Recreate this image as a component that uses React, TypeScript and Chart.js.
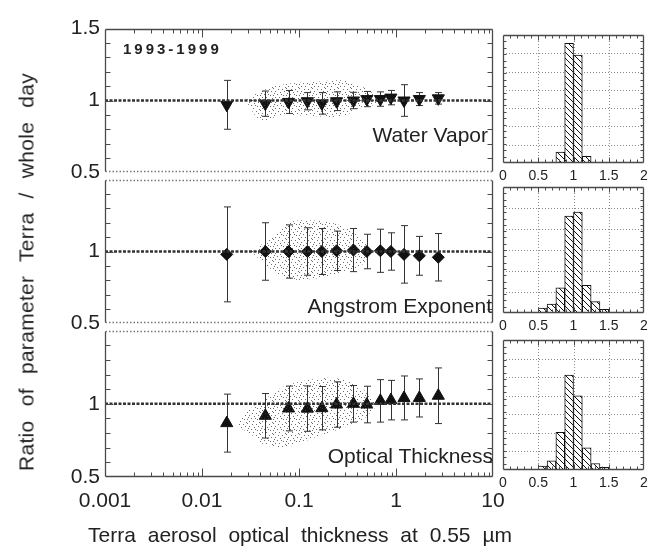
import React, { useEffect, useRef } from 'react';
import { Chart, registerables } from 'chart.js';

Chart.register(...registerables);
Chart.defaults.font.family = "'Liberation Sans', Arial, sans-serif";
Chart.defaults.color = '#222';

// ---------------- DATA ----------------
// Terra aerosol optical thickness bin centres (x, log axis)
const aotBins = [0.018, 0.045, 0.078, 0.122, 0.172, 0.244, 0.364, 0.5, 0.69, 0.885, 1.21, 1.74, 2.73];

// Ratio Terra / whole day, per parameter, with 1-sigma error bars
const waterVapor = [0.97, 0.978, 0.99, 0.995, 0.98, 0.995, 1.0, 1.01, 1.01, 1.02, 1.0, 1.01, 1.015];
const waterVaporErr = [0.17, 0.088, 0.08, 0.06, 0.075, 0.065, 0.057, 0.053, 0.05, 0.05, 0.11, 0.045, 0.04];
const angstrom = [0.98, 1.0, 1.0, 1.0, 1.0, 1.005, 1.01, 1.0, 1.005, 1.0, 0.98, 0.97, 0.96];
const angstromErr = [0.33, 0.2, 0.185, 0.165, 0.16, 0.137, 0.15, 0.12, 0.15, 0.13, 0.2, 0.135, 0.165];
const opticalThickness = [0.868, 0.918, 0.968, 0.967, 0.97, 0.995, 1.0, 0.995, 1.02, 1.025, 1.04, 1.04, 1.055];
const opticalThicknessErr = [0.198, 0.152, 0.153, 0.155, 0.148, 0.155, 0.125, 0.125, 0.145, 0.135, 0.15, 0.13, 0.19];

// Envelopes of the individual-measurement scatter clouds
const wvCloudX = [0.028, 0.041, 0.066, 0.145, 0.27, 0.43, 0.6, 0.66];
const wvCloudUpper = [1.0, 1.066, 1.11, 1.13, 1.14, 1.1, 1.04, 1.0];
const wvCloudLower = [1.0, 0.86, 0.9, 0.89, 0.89, 0.945, 0.97, 1.0];
const aeCloudX = [0.032, 0.052, 0.077, 0.145, 0.27, 0.43, 0.51, 0.53];
const aeCloudUpper = [1.0, 1.095, 1.2, 1.215, 1.18, 1.095, 1.03, 1.0];
const aeCloudLower = [1.0, 0.875, 0.81, 0.81, 0.85, 0.9, 0.96, 1.0];
const otCloudX = [0.024, 0.032, 0.044, 0.071, 0.145, 0.27, 0.43, 0.6, 0.64];
const otCloudUpper = [0.88, 0.97, 1.03, 1.12, 1.17, 1.17, 1.11, 1.03, 1.0];
const otCloudLower = [0.84, 0.79, 0.72, 0.7, 0.77, 0.83, 0.88, 0.97, 1.0];

// Histograms of the ratio (bin centres, relative frequency)
const histBinCenters = [0.0625, 0.1875, 0.3125, 0.4375, 0.5625, 0.6875, 0.8125, 0.9375,
  1.0625, 1.1875, 1.3125, 1.4375, 1.5625, 1.6875, 1.8125, 1.9375];
const histWaterVapor = [0, 0, 0, 0, 0, 0.005, 0.086, 0.935, 0.844, 0.052, 0.005, 0, 0, 0, 0, 0];
const histAngstrom = [0, 0, 0, 0, 0.04, 0.07, 0.2, 0.77, 0.8, 0.22, 0.09, 0.03, 0, 0, 0, 0];
const histOptical = [0, 0, 0, 0, 0.03, 0.07, 0.29, 0.73, 0.57, 0.17, 0.05, 0.02, 0, 0, 0, 0];
const histGridSteps = [1 / 7, 1 / 6, 1 / 7];

// Tick labels
const xTickValues = [0.001, 0.01, 0.1, 1, 10];
const xTickLabels = ['0.001', '0.01', '0.1', '1', '10'];
const yTickValues = [0.5, 1, 1.5];
const yTickLabels = ['0.5', '1', '1.5'];
const histTickValues = [0, 0.5, 1, 1.5, 2];
const histTickLabels = ['0', '0.5', '1', '1.5', '2'];

const panelNames = ['Water Vapor', 'Angstrom Exponent', 'Optical Thickness'];

// ---------------- PLUGINS ----------------
const framePlugin = {
  id: 'frameTicks',
  beforeDatasetsDraw(chart: any, _args: any, opts: any) {
    if (!opts || !opts.enabled) return;
    const { ctx, chartArea: a } = chart;
    const xs = chart.scales.x, ys = chart.scales.y;
    ctx.save();
    ctx.strokeStyle = '#8a8a8a';
    ctx.lineWidth = 1;
    ctx.setLineDash([1, 2]);
    (opts.gridX || []).forEach((v: number) => {
      const px = Math.round(xs.getPixelForValue(v)) + 0.5;
      ctx.beginPath(); ctx.moveTo(px, a.top); ctx.lineTo(px, a.bottom); ctx.stroke();
    });
    (opts.gridY || []).forEach((v: number) => {
      const py = Math.round(ys.getPixelForValue(v)) + 0.5;
      ctx.beginPath(); ctx.moveTo(a.left, py); ctx.lineTo(a.right, py); ctx.stroke();
    });
    ctx.restore();
  },
  afterDatasetsDraw(chart: any, _args: any, opts: any) {
    if (!opts || !opts.enabled) return;
    const { ctx, chartArea: a } = chart;
    const xs = chart.scales.x, ys = chart.scales.y;
    const L = Math.round(a.left) + 0.5, R = Math.round(a.right) - 0.5;
    const T = Math.round(a.top) + 0.5, B = Math.round(a.bottom) - 0.5;
    ctx.save();
    ctx.lineWidth = 1.3;
    const seg = (x1: number, y1: number, x2: number, y2: number, dash: boolean) => {
      ctx.setLineDash(dash ? [1.5, 2] : []);
      ctx.strokeStyle = dash ? '#777' : '#4a4a4a';
      ctx.beginPath(); ctx.moveTo(x1, y1); ctx.lineTo(x2, y2); ctx.stroke();
    };
    seg(L, T, L, B, false);
    seg(R, T, R, B, false);
    seg(L, T, R, T, !!opts.topDotted);
    seg(L, B, R, B, !!opts.bottomDotted);
    ctx.setLineDash([]);
    ctx.strokeStyle = '#4a4a4a';
    ctx.lineWidth = 1;
    (opts.xTicks || []).forEach((t: any) => {
      const px = Math.round(xs.getPixelForValue(t.v)) + 0.5;
      if (opts.ticksTop) { ctx.beginPath(); ctx.moveTo(px, T); ctx.lineTo(px, T + t.len); ctx.stroke(); }
      if (opts.ticksBottom) { ctx.beginPath(); ctx.moveTo(px, B); ctx.lineTo(px, B - t.len); ctx.stroke(); }
    });
    (opts.yTicks || []).forEach((t: any) => {
      const py = Math.round(ys.getPixelForValue(t.v)) + 0.5;
      ctx.beginPath(); ctx.moveTo(L, py); ctx.lineTo(L + t.len, py); ctx.stroke();
      ctx.beginPath(); ctx.moveTo(R, py); ctx.lineTo(R - t.len, py); ctx.stroke();
    });
    ctx.restore();
  },
};

const errorBarPlugin = {
  id: 'errorBars',
  beforeDatasetDraw(chart: any, args: any) {
    const ds = chart.data.datasets[args.index];
    if (!ds.errorBars) return;
    const ys = chart.scales[args.meta.yAxisID];
    const ctx = chart.ctx;
    ctx.save();
    ctx.strokeStyle = '#333';
    ctx.lineWidth = 1;
    args.meta.data.forEach((pt: any, i: number) => {
      const v = ds.data[i].y, e = ds.errorBars[i];
      const x = Math.round(pt.x) + 0.5;
      const y1 = ys.getPixelForValue(v + e), y2 = ys.getPixelForValue(v - e);
      ctx.beginPath();
      ctx.moveTo(x, y1); ctx.lineTo(x, y2);
      ctx.moveTo(x - 3.5, y1); ctx.lineTo(x + 3.5, y1);
      ctx.moveTo(x - 3.5, y2); ctx.lineTo(x + 3.5, y2);
      ctx.stroke();
    });
    ctx.restore();
  },
};

// ---------------- PATTERNS ----------------
function makeDotPattern(ctx: CanvasRenderingContext2D) {
  const c = document.createElement('canvas');
  c.width = 13; c.height = 11;
  const g = c.getContext('2d')!;
  g.fillStyle = 'rgba(60,60,60,0.75)';
  const dots = [[0, 0], [5, 1], [9, 1], [2, 3], [7, 4], [11, 3], [4, 6], [10, 7], [0, 7],
    [6, 9], [2, 9], [12, 10], [8, 6], [1, 5]];
  dots.forEach(([x, y]) => g.fillRect(x, y, 1, 1));
  return ctx.createPattern(c, 'repeat')!;
}

function makeHatch(ctx: CanvasRenderingContext2D) {
  const c = document.createElement('canvas');
  c.width = 6; c.height = 6;
  const g = c.getContext('2d')!;
  g.fillStyle = '#fff';
  g.fillRect(0, 0, 6, 6);
  g.strokeStyle = '#111';
  g.lineWidth = 1;
  g.beginPath();
  g.moveTo(-1, -1); g.lineTo(7, 7);
  g.moveTo(-1, 5); g.lineTo(1, 7);
  g.moveTo(5, -1); g.lineTo(7, 1);
  g.stroke();
  return ctx.createPattern(c, 'repeat')!;
}

// ---------------- CONFIG BUILDERS ----------------
const PANEL_TOPS = [25, 176, 327];
const PANEL_H = [151, 151, 150];
const PAD_T = 14;
const X_AXIS_H = 40;

const series = [waterVapor, angstrom, opticalThickness];
const seriesErr = [waterVaporErr, angstromErr, opticalThicknessErr];
const cloudX = [wvCloudX, aeCloudX, otCloudX];
const cloudUp = [wvCloudUpper, aeCloudUpper, otCloudUpper];
const cloudLo = [wvCloudLower, aeCloudLower, otCloudLower];
const markerStyle = [
  { pointStyle: 'triangle', rotation: 180, radius: 7 },
  { pointStyle: 'rectRot', rotation: 0, radius: 6 },
  { pointStyle: 'triangle', rotation: 0, radius: 7 },
];
const hists = [histWaterVapor, histAngstrom, histOptical];
const HIST_TOPS = [35, 187, 340];
const HIST_BOTTOMS = [163, 313, 470];

function logTicks() {
  const out: { v: number; len: number }[] = [];
  for (let d = -3; d <= 0; d++) {
    for (let m = 1; m <= 9; m++) {
      if (d === -3 && m === 1) continue;
      out.push({ v: m * Math.pow(10, d), len: m === 1 ? 8 : 4 });
    }
  }
  return out;
}

function mainConfig(i: number, ctx: CanvasRenderingContext2D): any {
  const isBottom = i === 2;
  const yTicks: { v: number; len: number }[] = [];
  for (let k = 6; k <= 14; k++) yTicks.push({ v: k / 10, len: k === 10 ? 8 : 5 });
  const dots = makeDotPattern(ctx);
  return {
    type: 'line',
    data: {
      datasets: [
        {
          label: 'cloud lower', data: cloudX[i].map((x, k) => ({ x, y: cloudLo[i][k] })),
          borderWidth: 0, borderColor: 'rgba(0,0,0,0)', pointRadius: 0, fill: false, tension: 0.35,
        },
        {
          label: 'cloud upper', data: cloudX[i].map((x, k) => ({ x, y: cloudUp[i][k] })),
          borderWidth: 0, borderColor: 'rgba(0,0,0,0)', pointRadius: 0, fill: '-1', backgroundColor: dots, tension: 0.35,
        },
        {
          label: 'unity', data: [{ x: 0.001, y: 1 }, { x: 10, y: 1 }],
          borderColor: '#333', borderWidth: 2.5, borderDash: [3, 1.5], pointRadius: 0, fill: false,
        },
        {
          label: panelNames[i], data: aotBins.map((x, k) => ({ x, y: series[i][k] })),
          errorBars: seriesErr[i], showLine: false,
          pointStyle: markerStyle[i].pointStyle, rotation: markerStyle[i].rotation,
          pointRadius: markerStyle[i].radius, backgroundColor: '#111', borderColor: '#111', borderWidth: 1,
        },
      ],
    },
    options: {
      animation: false, responsive: false, events: [],
      layout: { padding: { top: PAD_T, bottom: isBottom ? 0 : PAD_T, left: 0, right: 27 } },
      plugins: {
        legend: { display: false }, tooltip: { enabled: false },
        frameTicks: {
          enabled: true, topDotted: i !== 0, bottomDotted: i !== 2,
          ticksTop: i === 0, ticksBottom: i === 2, xTicks: logTicks(), yTicks,
        },
      },
      scales: {
        x: {
          type: 'logarithmic', min: 0.001, max: 10, display: isBottom,
          grid: { display: false, drawTicks: false }, border: { display: false },
          ticks: {
            autoSkip: false, maxRotation: 0, padding: 12, font: { size: 21 }, color: '#222',
            callback: (v: number) => {
              const k = xTickValues.findIndex((t) => Math.abs(Math.log10(t) - Math.log10(v)) < 1e-6);
              return k >= 0 ? xTickLabels[k] : '';
            },
          },
          afterFit: (s: any) => { s.height = isBottom ? X_AXIS_H : 0; },
        },
        y: {
          min: 0.5, max: 1.5,
          grid: { display: false, drawTicks: false }, border: { display: false },
          ticks: {
            stepSize: 0.5, padding: 5, font: { size: 21 }, color: '#222',
            callback: (v: number) => {
              const k = yTickValues.findIndex((t) => Math.abs(t - v) < 1e-6);
              if (k < 0) return '';
              if (i !== 0 && k === 2) return '';
              return yTickLabels[k];
            },
          },
          afterFit: (s: any) => { s.width = 105; },
        },
      },
    },
    plugins: [framePlugin, errorBarPlugin],
  };
}

function histConfig(i: number, ctx: CanvasRenderingContext2D): any {
  const hatch = makeHatch(ctx);
  const gridY: number[] = [];
  for (let v = histGridSteps[i]; v < 0.999; v += histGridSteps[i]) gridY.push(v);
  const xTicks: { v: number; len: number }[] = [];
  for (let k = 1; k < 20; k++) xTicks.push({ v: k / 10, len: k % 5 === 0 ? 5 : 3 });
  const yTicks: { v: number; len: number }[] = [];
  for (let k = 1; k < 20; k++) yTicks.push({ v: k / 20, len: 3 });
  return {
    type: 'bar',
    data: {
      datasets: [{
        label: panelNames[i] + ' histogram',
        data: histBinCenters.map((x, k) => ({ x, y: hists[i][k] })),
        backgroundColor: hatch, borderColor: '#111', borderWidth: 1,
        barPercentage: 1, categoryPercentage: 1,
      }],
    },
    options: {
      animation: false, responsive: false, events: [],
      layout: { padding: { top: 8, bottom: 0, left: 23, right: 11 } },
      plugins: {
        legend: { display: false }, tooltip: { enabled: false },
        frameTicks: {
          enabled: true, topDotted: false, bottomDotted: false, ticksTop: true, ticksBottom: true,
          xTicks, yTicks, gridX: [0.5, 1, 1.5], gridY,
        },
      },
      scales: {
        x: {
          type: 'linear', min: 0, max: 2, offset: false,
          grid: { display: false, drawTicks: false }, border: { display: false },
          afterBuildTicks: (s: any) => { s.ticks = histTickValues.map((v) => ({ value: v })); },
          ticks: {
            autoSkip: false, maxRotation: 0, padding: 5, font: { size: 14 }, color: '#222',
            callback: (v: number) => {
              const k = histTickValues.findIndex((t) => Math.abs(t - v) < 1e-6);
              return k >= 0 ? histTickLabels[k] : '';
            },
          },
          afterFit: (s: any) => { s.height = 24; },
        },
        y: { display: false, min: 0, max: 1 },
      },
    },
    plugins: [framePlugin],
  };
}

// ---------------- COMPONENTS ----------------
function ChartBox(props: { build: (ctx: CanvasRenderingContext2D) => any; left: number; top: number; width: number; height: number }) {
  const ref = useRef<HTMLCanvasElement>(null);
  useEffect(() => {
    const canvas = ref.current!;
    const ctx = canvas.getContext('2d')!;
    const chart = new Chart(canvas, props.build(ctx));
    return () => chart.destroy();
  }, []);
  return (
    <canvas
      ref={ref}
      width={props.width}
      height={props.height}
      style={{ position: 'absolute', left: props.left, top: props.top, width: props.width, height: props.height }}
    />
  );
}

const textBase: React.CSSProperties = {
  position: 'absolute', fontFamily: "'Liberation Sans', Arial, sans-serif", color: '#222',
  whiteSpace: 'nowrap', lineHeight: 1,
};

export default function App() {
  const labelRights = [488, 492, 493];
  const labelTops = [124, 295, 445];
  return (
    <div style={{ position: 'absolute', left: 0, top: 0, width: 655, height: 546, background: '#fff', overflow: 'hidden' }}>
      {[0, 1, 2].map((i) => (
        <ChartBox
          key={'m' + i}
          build={(ctx) => mainConfig(i, ctx)}
          left={0}
          top={PANEL_TOPS[i] - PAD_T}
          width={520}
          height={PANEL_H[i] + PAD_T + (i === 2 ? X_AXIS_H : PAD_T)}
        />
      ))}
      {[0, 1, 2].map((i) => (
        <ChartBox
          key={'h' + i}
          build={(ctx) => histConfig(i, ctx)}
          left={480}
          top={HIST_TOPS[i] - 8}
          width={175}
          height={HIST_BOTTOMS[i] - HIST_TOPS[i] + 8 + 24}
        />
      ))}
      {panelNames.map((n, i) => (
        <div key={'t' + i} style={{ ...textBase, fontSize: 21, right: 655 - labelRights[i], top: labelTops[i] }}>{n}</div>
      ))}
      <div style={{ ...textBase, fontSize: 15, fontWeight: 'bold', letterSpacing: 3, left: 123, top: 41 }}>1993-1999</div>
      <div style={{ ...textBase, fontSize: 21, wordSpacing: 6, left: 300, top: 524, transform: 'translateX(-50%)' }}>
        Terra aerosol optical thickness at 0.55 µm
      </div>
      <div style={{ ...textBase, fontSize: 21, wordSpacing: 8, letterSpacing: 0.3, left: 26, top: 272, transform: 'translate(-50%, -50%) rotate(-90deg)' }}>
        Ratio of parameter Terra / whole day
      </div>
    </div>
  );
}
